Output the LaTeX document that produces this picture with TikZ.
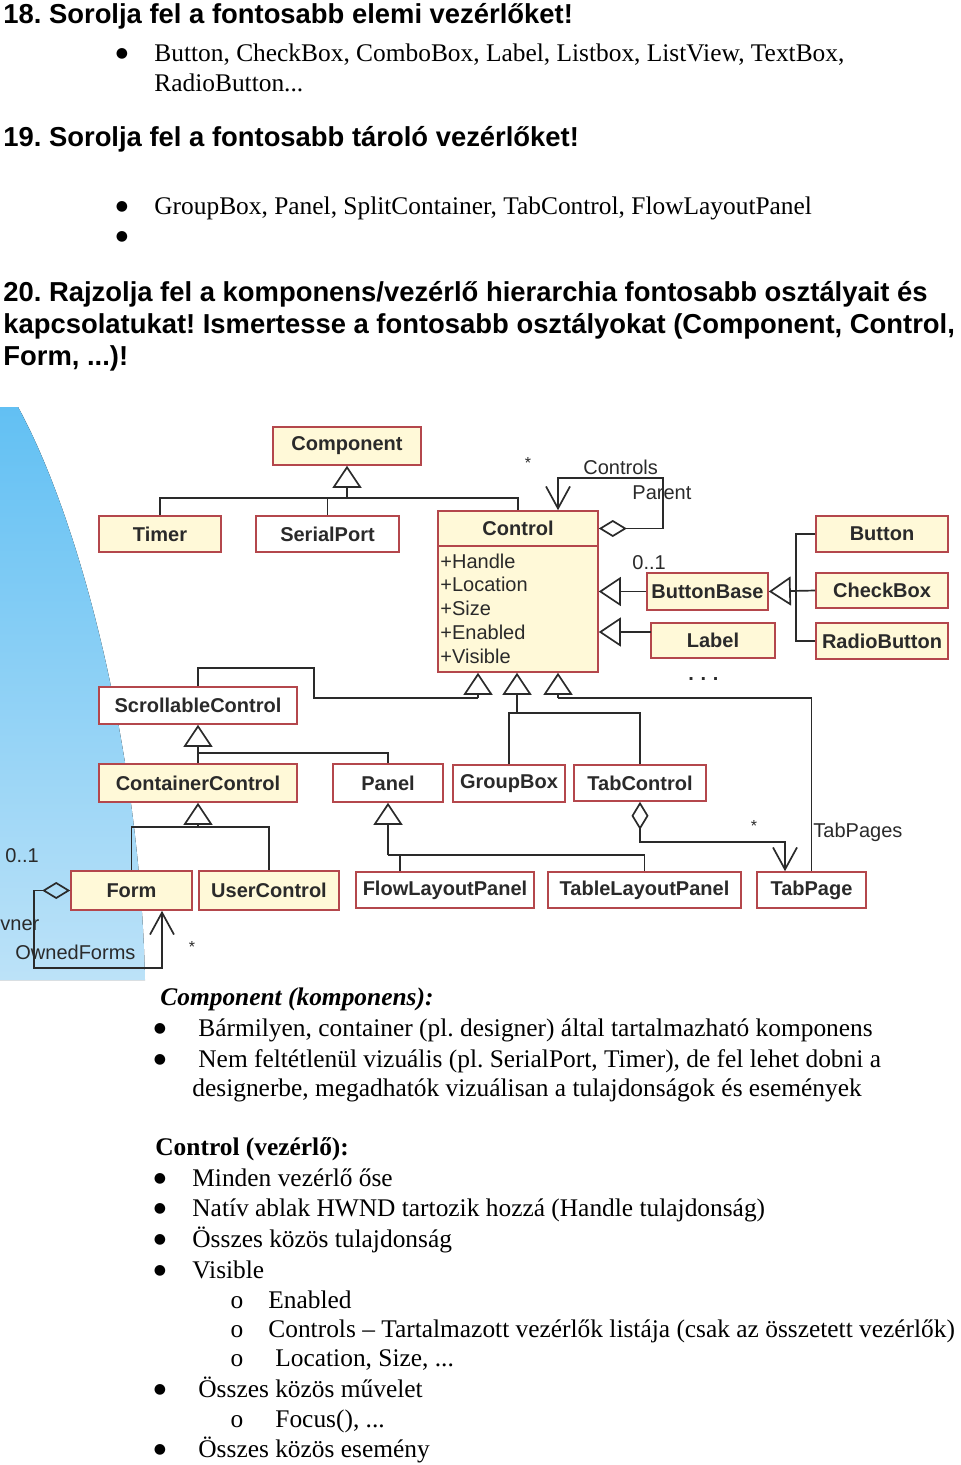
\documentclass[tikz,border=0pt]{standalone}
\usepackage{fontspec}
\setmainfont{Liberation Serif}
\setsansfont{Liberation Sans}
\newfontfamily\dvsfont{DejaVu Sans}
\usetikzlibrary{arrows.meta}
\definecolor{cream}{HTML}{FFF9D8}
\definecolor{boxred}{HTML}{B4474C}
\definecolor{ink}{HTML}{2A2A2A}
\definecolor{skyA}{HTML}{62C0F3}
\definecolor{skyB}{HTML}{BCE2F8}
\frenchspacing
\begin{document}
\begin{tikzpicture}[x=0.5pt, y=-0.5pt,
  sz/.style 2 args={minimum width=#1*0.5pt, minimum height=#2*0.5pt},
  cls/.style={draw=boxred, line width=0.8pt, inner sep=0pt, text=ink,
    font=\sffamily\bfseries\fontsize{10}{12}\selectfont},
  crm/.style={cls, fill=cream},
  wht/.style={cls, fill=white},
  attr/.style={anchor=base west, inner sep=0pt, text=ink,
    font=\sffamily\fontsize{10}{12}\selectfont},
  lbl/.style={anchor=base west, inner sep=0pt, text=ink,
    font=\sffamily\fontsize{10}{12}\selectfont},
  star/.style={inner sep=0pt, text=ink, font=\sffamily\fontsize{8}{10}\selectfont},
  lin/.style={draw=ink, line width=0.85pt},
  inh/.style={lin, -{Triangle[open, length=11pt, width=14.5pt]}},
  agg/.style={lin, {Diamond[open, length=14pt, width=8.5pt]}-{Straight Barb[length=11pt, width=12pt]}},
  hd/.style={anchor=base west, inner sep=0pt, font=\sffamily\bfseries\fontsize{13.7}{16}\selectfont},
  bd/.style={anchor=base west, inner sep=0pt, font=\fontsize{12.7}{15}\selectfont},
  bul/.style={anchor=base, inner sep=0pt, font=\dvsfont\fontsize{7}{8}\selectfont},
  sub/.style={anchor=base, inner sep=0pt, font=\fontsize{12.7}{15}\selectfont}
]
\useasboundingbox (0,0) rectangle (960,1465);
\fill[white] (0,0) rectangle (960,1465);

% ---------- header text ----------
\node[hd] (h18) at (3,24) {18. Sorolja fel a fontosabb elemi vezérlőket!};
\node[bul] (b18) at (122,58) {●};
\node[bd] (l18a) at (154,62) {Button, CheckBox, ComboBox, Label, Listbox, ListView, TextBox,};
\node[bd] (l18b) at (154,92) {RadioButton...};
\node[hd] (h19) at (3,147) {19. Sorolja fel a fontosabb tároló vezérlőket!};
\node[bul] (b19a) at (122,211) {●};
\node[bd] (l19a) at (154,215) {GroupBox, Panel, SplitContainer, TabControl, FlowLayoutPanel};
\node[bul] (b19b) at (122,241) {●};
\node[hd] (h20a) at (3,302) {20. Rajzolja fel a komponens/vezérlő hierarchia fontosabb osztályait és};
\node[hd] (h20b) at (3,334) {kapcsolatukat! Ismertesse a fontosabb osztályokat (Component, Control,};
\node[hd] (h20c) at (3,365) {Form, ...)!};

% ---------- blue background ----------
\fill[top color=skyA, bottom color=skyB] (0,407) -- (18,407)
  .. controls (80,520) and (140,750) .. (145,980) -- (0,980) -- cycle;

% ---------- classes ----------
\node[crm, sz={148}{38}] (comp) at (347,446) {Component};
\node[crm, sz={122}{36}] (timer) at (160,534) {Timer};
\node[wht, sz={143}{36}] (sp) at (327.5,534) {SerialPort};
\node[crm, sz={160}{126}] (ctrlb) at (518,609) {};
\node[crm, sz={160}{35}] (ctrl) at (518,528.5) {Control};
\node[attr] (a1) at (440,568) {+Handle};
\node[attr] (a2) at (440,591) {+Location};
\node[attr] (a3) at (440,615) {+Size};
\node[attr] (a4) at (440,639) {+Enabled};
\node[attr] (a5) at (440,663) {+Visible};
\node[crm, sz={121}{37}] (bb) at (707.5,591.5) {ButtonBase};
\node[crm, sz={124}{35}] (lab) at (713,640.5) {Label};
\node[crm, sz={132}{36}] (btn) at (882,534) {Button};
\node[crm, sz={132}{35}] (cb) at (882,590.5) {CheckBox};
\node[crm, sz={132}{36}] (rb) at (882,641) {RadioButton};
\node[wht, sz={198}{37}] (scr) at (198,705.5) {ScrollableControl};
\node[crm, sz={198}{38}] (cc) at (198,783) {ContainerControl};
\node[wht, sz={110}{38}] (pan) at (388,783) {Panel};
\node[wht, sz={112}{37}] (gb) at (509,783.5) {GroupBox};
\node[wht, sz={132}{36}] (tc) at (640,783) {TabControl};
\node[crm, sz={121}{39}] (form) at (131.5,890.5) {Form};
\node[crm, sz={140}{39}] (uc) at (269,890.5) {UserControl};
\node[wht, sz={178}{36}] (flp) at (445,890) {FlowLayoutPanel};
\node[wht, sz={193}{36}] (tlp) at (644.5,890) {TableLayoutPanel};
\node[wht, sz={109}{36}] (tp) at (811.5,890) {TabPage};

% ---------- coordinates ----------
\coordinate (cj) at (347,498);
\coordinate (cp1) at (558,478);
\coordinate (lj) at (651,632);
\coordinate (t1) at (478,698);
\coordinate (t2) at (517,713);
\coordinate (t3) at (558,698);
\coordinate (sj) at (314,698);
\coordinate (pj) at (198,753);
\coordinate (fj) at (198,827);
\coordinate (pn) at (388,855);
\coordinate (fl) at (400,855);
\coordinate (tpa) at (785,842);
\coordinate (fo) at (162,968);

% ---------- connectors ----------
\draw[inh] (cj) -- (cj |- comp.south);
\draw[lin] (timer.north) |- (ctrl.north |- cj) -- (ctrl.north);
\draw[lin] (sp.north) -- (sp.north |- cj);

\draw[agg] (ctrl.east) -- ++(64,0) |- (cp1) -- (cp1 |- ctrl.north);

\draw[inh] (bb.west) -- (bb.west -| ctrlb.east);
\draw[inh] (lj) -- (lj -| ctrlb.east);
\draw[inh] (cb.west) -- (bb.east);
\draw[lin] (btn.west) -- ++(-19,0) |- (rb.west);

\draw[inh] (t1) -- (t1 |- ctrlb.south);
\draw[inh] (t2) -- (t2 |- ctrlb.south);
\draw[inh] (t3) -- (t3 |- ctrlb.south);
\draw[lin] (scr.north) -- ++(0,-18) -| (sj) -- (t1);
\draw[lin] (gb.north) |- (tc.north |- t2) -- (tc.north);
\draw[lin] (t3) -| (tp.north);

\draw[inh] (cc.north) -- (scr.south);
\draw[lin] (pj) -| (pan.north);
\draw[inh] (fj) -- (fj |- cc.south);
\draw[lin] (form.north) |- (uc.north |- fj) -- (uc.north);

\draw[inh] (pn) -- (pn |- pan.south);
\draw[lin] (pn) -| (tlp.north);
\draw[lin] (fl) -- (fl |- flp.north);

\draw[agg] (tc.south) |- (tpa) -- (tpa |- tp.north);
\draw[agg] (form.west) -- ++(-36,0) |- (fo) -- (fo |- form.south);

% ---------- labels ----------
\node[star] (s1) at (528,463) {*};
\node[lbl] (lc) at (583,474) {Controls};
\node[lbl] (lp) at (632,499) {Parent};
\node[lbl] (l01a) at (632,569) {0..1};
\node[lbl, font=\sffamily\bfseries\fontsize{10}{12}\selectfont] (dots) at (688,680) {.\,\,.\,\,.};
\node[star] (s2) at (754,826) {*};
\node[lbl] (ltp) at (813,837) {TabPages};
\node[lbl] (l01b) at (5,862) {0..1};
\node[lbl] (lo) at (0,930) {vner};
\node[lbl] (lof) at (15,959) {OwnedForms};
\node[star] (s3) at (192,947) {*};

% ---------- bottom text ----------
\node[bd, font=\bfseries\itshape\fontsize{12.7}{15}\selectfont] (hc) at (160,1005) {Component (komponens):};
\node[bul] (bc1) at (160,1032) {●};
\node[bd] (c1) at (198,1036) {Bármilyen, container (pl. designer) által tartalmazható komponens};
\node[bul] (bc2) at (160,1063) {●};
\node[bd] (c2) at (198,1067) {Nem feltétlenül vizuális (pl. SerialPort, Timer), de fel lehet dobni a};
\node[bd] (c3) at (192,1096) {designerbe, megadhatók vizuálisan a tulajdonságok és események};
\node[bd, font=\bfseries\fontsize{12.7}{15}\selectfont] (hk) at (155,1155) {Control (vezérlő):};
\node[bul] (bk1) at (160,1182) {●};
\node[bd] (k1) at (192,1186) {Minden vezérlő őse};
\node[bul] (bk2) at (160,1212) {●};
\node[bd] (k2) at (192,1216) {Natív ablak HWND tartozik hozzá (Handle tulajdonság)};
\node[bul] (bk3) at (160,1243) {●};
\node[bd] (k3) at (192,1247) {Összes közös tulajdonság};
\node[bul] (bk4) at (160,1274) {●};
\node[bd] (k4) at (192,1278) {Visible};
\node[sub] (ok1) at (237,1308) {o};
\node[bd] (k5) at (268,1308) {Enabled};
\node[sub] (ok2) at (237,1337) {o};
\node[bd] (k6) at (268,1337) {Controls – Tartalmazott vezérlők listája (csak az összetett vezérlők)};
\node[sub] (ok3) at (237,1366) {o};
\node[bd] (k7) at (275,1366) {Location, Size, ...};
\node[bul] (bk5) at (160,1393) {●};
\node[bd] (k8) at (198,1397) {Összes közös művelet};
\node[sub] (ok4) at (237,1427) {o};
\node[bd] (k9) at (275,1427) {Focus(), ...};
\node[bul] (bk6) at (160,1453) {●};
\node[bd] (k10) at (198,1457) {Összes közös esemény};
\end{tikzpicture}
\end{document}
